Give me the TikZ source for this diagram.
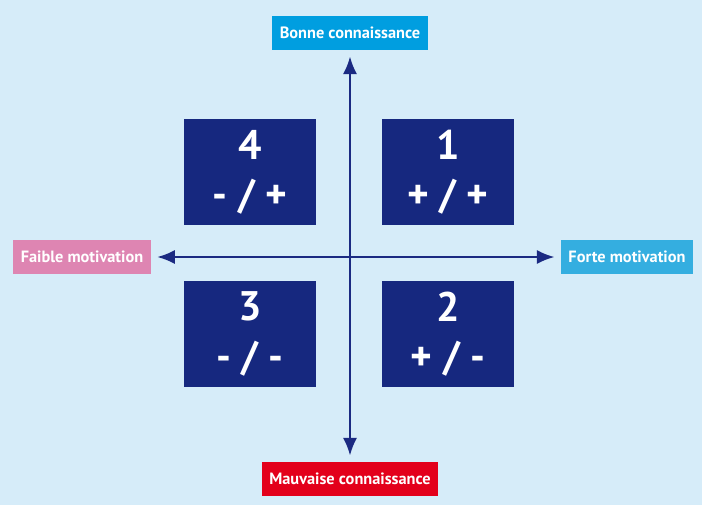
\documentclass[tikz,border=0pt]{standalone}
\usepackage{fontspec}
\setmainfont{PT Sans}
\usepackage{tikz}
\usetikzlibrary{arrows.meta,positioning}
\definecolor{fond}{RGB}{214,236,249}
\definecolor{marine}{RGB}{22,40,127}
\definecolor{fleche}{RGB}{27,42,130}
\definecolor{bleuhaut}{RGB}{0,158,224}
\definecolor{bleudroit}{RGB}{52,174,224}
\definecolor{rose}{RGB}{222,133,178}
\definecolor{rouge}{RGB}{227,0,27}
\tikzset{
  quad/.style={
    shape = rectangle,
    fill = marine,
    text = white,
    minimum width = 2.64cm,
    minimum height = 2.12cm,
    align = center,
    font = \fontsize{23.5}{28}\selectfont\bfseries
  },
  lbl/.style={
    shape = rectangle,
    text = white,
    minimum height = 0.68cm,
    inner xsep = 0.15cm,
    font = \fontsize{9.3}{11}\selectfont\bfseries
  },
  axe/.style={
    draw = fleche,
    line width = 1.2pt,
    {Latex[length=10pt,width=8pt]}-{Latex[length=10pt,width=8pt]},
    shorten <= 3.5pt,
    shorten >= 3.5pt
  }
}
\begin{document}
\begin{tikzpicture}[x=0.02cm,y=-0.02cm]
        \fill[fond] (0,0) rectangle (702,505);
        \useasboundingbox (0,0) rectangle (702,505);
        % etiquettes des axes
        \node[lbl, fill=bleuhaut, minimum width=3.04cm] (haut) at (350,33) {Bonne connaissance};
        \node[lbl, fill=rouge, minimum width=3.40cm] (bas) at (350,479) {Mauvaise connaissance};
        \node[lbl, fill=rose, minimum width=2.72cm] (gauche) at (82,257) {Faible motivation};
        \node[lbl, fill=bleudroit, minimum width=2.64cm] (droite) at (627,257) {Forte motivation};
        % quadrants
        \node[quad] (q4) at (250,172) {4\\- / +};
        \node[quad] (q1) at (448,172) {1\\+ / +};
        \node[quad] (q3) at (250,334) {3\\- / -};
        \node[quad] (q2) at (448,334) {2\\+ / -};
        % axes
        \draw[axe] (haut.south) -- (bas.north);
        \draw[axe] (gauche.east) -- (droite.west);
    \end{tikzpicture}
\end{document}
